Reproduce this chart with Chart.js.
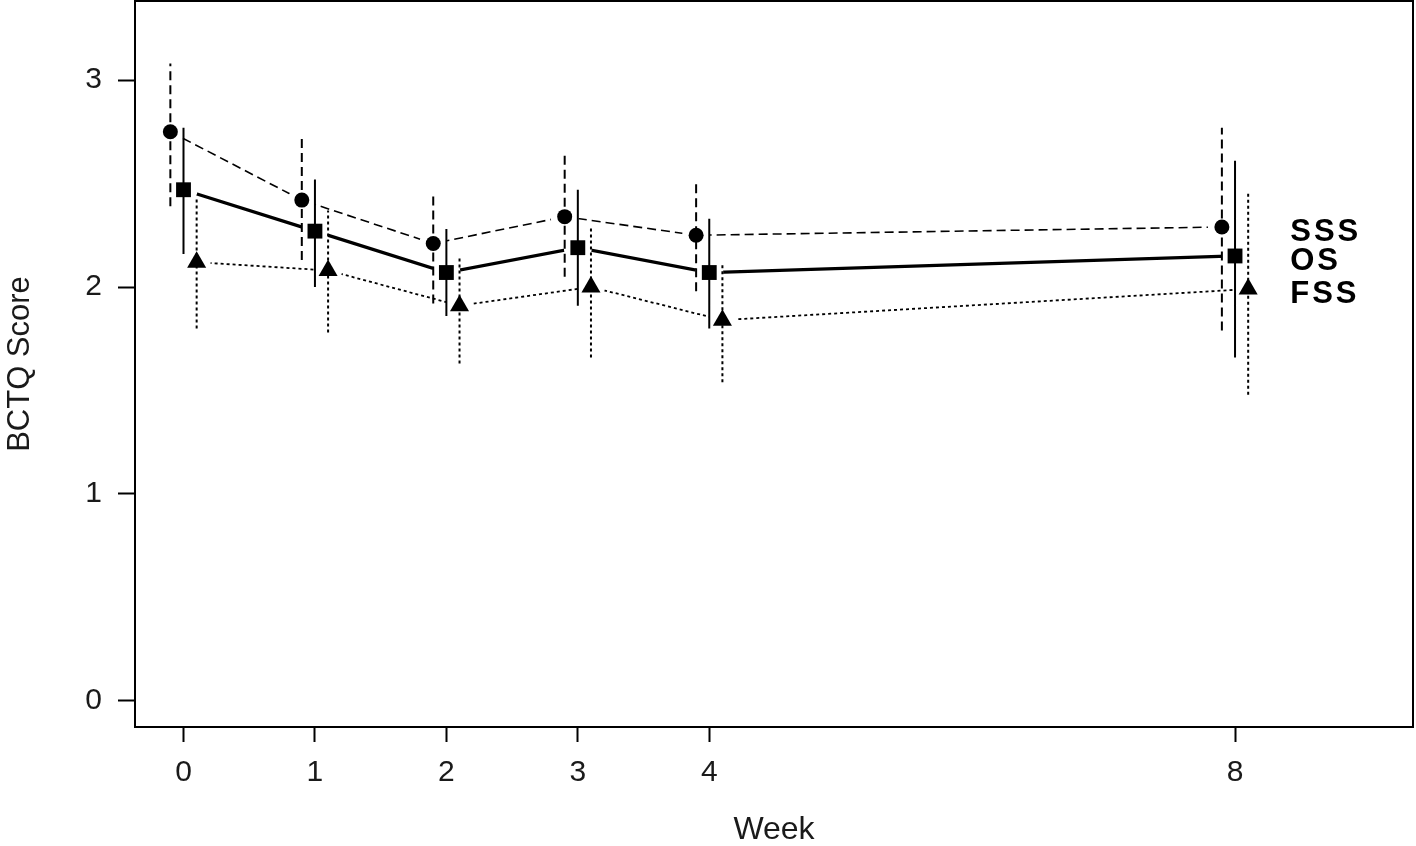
<!DOCTYPE html>
<html>
<head>
<meta charset="utf-8">
<script src="https://cdn.jsdelivr.net/npm/chart.js@4.4.1/dist/chart.umd.min.js"></script>
<style>
  html, body { margin: 0; padding: 0; background: #fff; }
  #wrap { width: 1416px; height: 846px; }
</style>
</head>
<body>
<div id="wrap"><canvas id="bctqChart"></canvas></div>
<script>
// weeks on the x axis, and tick values for the y axis
const weeks = [0, 1, 2, 3, 4, 8];
const yTicks = [0, 1, 2, 3];
const seriesNames = ["SSS", "OS", "FSS"];

// SSS group (circles, dashed)
const sssMean = [2.75, 2.42, 2.21, 2.34, 2.25, 2.29];
const sssLow = [2.39, 2.13, 1.92, 2.05, 1.98, 1.79];
const sssHigh = [3.08, 2.72, 2.45, 2.64, 2.50, 2.77];

// OS group (squares, solid)
const osMean = [2.47, 2.27, 2.07, 2.19, 2.07, 2.15];
const osLow = [2.16, 2.00, 1.86, 1.91, 1.80, 1.66];
const osHigh = [2.77, 2.52, 2.28, 2.47, 2.33, 2.61];

// FSS group (triangles, dotted)
const fssMean = [2.12, 2.08, 1.91, 2.00, 1.84, 1.99];
const fssLow = [1.80, 1.78, 1.63, 1.66, 1.54, 1.48];
const fssHigh = [2.43, 2.37, 2.14, 2.29, 2.12, 2.46];

const dodge = [-0.1, 0, 0.1];
const labelX = 8.42;

const groups = [
  { mean: sssMean, low: sssLow, high: sssHigh, marker: "circle", radius: 7.5, dash: [9, 5], lineWidth: 1.6 },
  { mean: osMean, low: osLow, high: osHigh, marker: "rect", radius: 10.5, dash: [], lineWidth: 3.2 },
  { mean: fssMean, low: fssLow, high: fssHigh, marker: "triangle", radius: 11, dash: [3, 3], lineWidth: 1.8 },
];

const datasets = [];
groups.forEach((g, i) => {
  const pts = weeks.map((w, k) => ({ x: w + dodge[i], y: g.mean[k] }));
  // connecting line, broken around each point like R type="b"
  datasets.push({
    data: pts,
    showLine: true,
    borderColor: "#000",
    borderWidth: g.lineWidth,
    borderDash: g.dash,
    pointRadius: 0,
    gapRadius: 14,
  });
  // error bars
  const bars = [];
  weeks.forEach((w, k) => {
    bars.push({ x: w + dodge[i], y: g.low[k] });
    bars.push({ x: w + dodge[i], y: g.high[k] });
    bars.push({ x: w + dodge[i], y: null });
  });
  datasets.push({
    data: bars,
    showLine: true,
    spanGaps: false,
    borderColor: "#000",
    borderWidth: 2,
    borderDash: g.dash,
    pointRadius: 0,
  });
  // markers
  datasets.push({
    data: pts,
    showLine: false,
    pointStyle: g.marker,
    pointRadius: g.radius,
    pointBackgroundColor: "#000",
    pointBorderWidth: 0,
  });
});

const lineGaps = {
  id: "lineGaps",
  beforeDatasetDraw(chart, args) {
    const ds = chart.data.datasets[args.index];
    if (!ds.gapRadius) return;
    const ctx = chart.ctx;
    ctx.save();
    ctx.beginPath();
    ctx.rect(0, 0, chart.width, chart.height);
    args.meta.data.forEach((pt) => {
      ctx.moveTo(pt.x + ds.gapRadius, pt.y);
      ctx.arc(pt.x, pt.y, ds.gapRadius, 0, Math.PI * 2);
    });
    ctx.clip("evenodd");
  },
  afterDatasetDraw(chart, args) {
    if (chart.data.datasets[args.index].gapRadius) chart.ctx.restore();
  },
};

const frameAndNames = {
  id: "frameAndNames",
  afterDraw(chart) {
    const { ctx, chartArea } = chart;
    ctx.save();
    ctx.strokeStyle = "#000";
    ctx.lineWidth = 2;
    ctx.strokeRect(chartArea.left, chartArea.top, chartArea.right - chartArea.left, chartArea.bottom - chartArea.top);
    ctx.fillStyle = "#000";
    ctx.font = "bold 31px 'Liberation Sans', Arial, sans-serif";
    ctx.letterSpacing = "3px";
    ctx.textAlign = "left";
    ctx.textBaseline = "alphabetic";
    const last = weeks.length - 1;
    groups.forEach((g, i) => {
      const x = chart.scales.x.getPixelForValue(labelX);
      const y = chart.scales.y.getPixelForValue(g.mean[last]);
      ctx.fillText(seriesNames[i], x, y + 14);
    });
    ctx.restore();
  },
};

const noEdgePadding = (scale) => {
  scale.paddingTop = 0;
  scale.paddingBottom = 0;
  scale.paddingLeft = 0;
  scale.paddingRight = 0;
};

new Chart(document.getElementById("bctqChart"), {
  type: "scatter",
  data: { datasets: datasets },
  options: {
    responsive: true,
    maintainAspectRatio: false,
    animation: false,
    layout: { autoPadding: false, padding: { left: 0, right: 3, top: 1, bottom: 0 } },
    plugins: {
      legend: { display: false },
      tooltip: { enabled: false },
    },
    scales: {
      x: {
        type: "linear",
        min: -0.369,
        max: 9.354,
        afterBuildTicks: (scale) => {
          scale.ticks = weeks.map((v) => ({ value: v }));
        },
        afterFit: (scale) => {
          scale.height = 119;
          noEdgePadding(scale);
        },
        border: { display: false },
        grid: { drawOnChartArea: false, drawTicks: true, tickLength: 15, tickColor: "#000", tickWidth: 2 },
        ticks: {
          color: "#1a1a1a",
          font: { family: "'Liberation Sans', Arial, sans-serif", size: 30 },
          padding: 13,
          maxRotation: 0,
          callback: (v) => String(v),
        },
        title: {
          display: true,
          text: "Week",
          color: "#1a1a1a",
          font: { family: "'Liberation Sans', Arial, sans-serif", size: 32, lineHeight: 1 },
          padding: { top: 0, bottom: 0 },
        },
      },
      y: {
        type: "linear",
        min: -0.126,
        max: 3.382,
        afterBuildTicks: (scale) => {
          scale.ticks = yTicks.map((v) => ({ value: v }));
        },
        afterFit: (scale) => {
          scale.width = 135;
          noEdgePadding(scale);
        },
        border: { display: false },
        grid: { drawOnChartArea: false, drawTicks: true, tickLength: 17, tickColor: "#000", tickWidth: 2 },
        ticks: {
          color: "#1a1a1a",
          font: { family: "'Liberation Sans', Arial, sans-serif", size: 30 },
          padding: 16,
          callback: (v) => String(v),
        },
        title: {
          display: true,
          text: "BCTQ Score",
          color: "#1a1a1a",
          font: { family: "'Liberation Sans', Arial, sans-serif", size: 31 },
          padding: { top: 2, bottom: 0 },
        },
      },
    },
  },
  plugins: [lineGaps, frameAndNames],
});
</script>
</body>
</html>
